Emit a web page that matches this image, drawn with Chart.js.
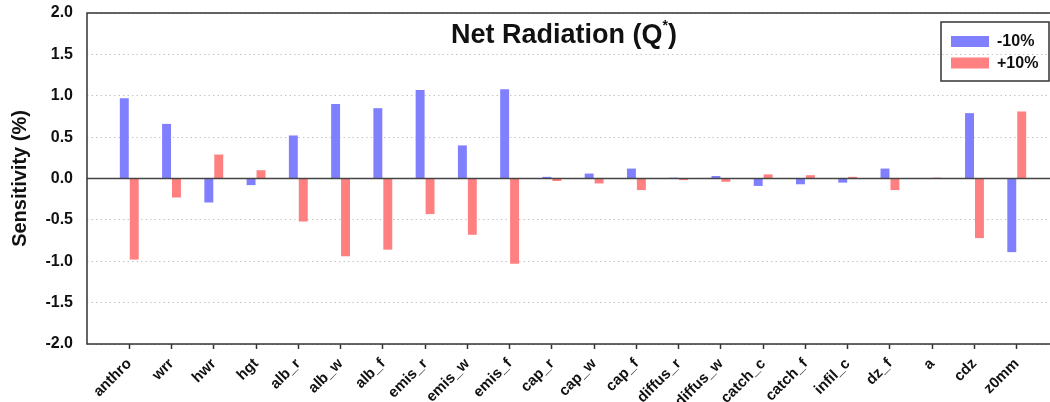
<!doctype html>
<html lang="en">
  <head>
    <meta charset="utf-8">
    <title>Net Radiation sensitivity</title>
    <style>
      * {
        margin: 0;
        padding: 0;
      }
      body {
        background: white;
        overflow: hidden;
        width: 1050px;
        height: 402px;
      }
      .chartBox {
        width: 1062px;
        height: 402px;
      }
    </style>
  </head>
  <body>
    <div class="chartBox">
      <canvas id="myChart"></canvas>
    </div>
    <script src="https://cdn.jsdelivr.net/npm/chart.js/dist/chart.umd.min.js"></script>
    <script>
    // setup
    const categories = ['anthro', 'wrr', 'hwr', 'hgt', 'alb_r', 'alb_w', 'alb_f', 'emis_r', 'emis_w', 'emis_f',
      'cap_r', 'cap_w', 'cap_f', 'diffus_r', 'diffus_w', 'catch_c', 'catch_f', 'infil_c', 'dz_f', 'a', 'cdz', 'z0mm'];
    const minus10 = [0.97, 0.66, -0.29, -0.08, 0.52, 0.90, 0.85, 1.07, 0.40, 1.08,
      0.02, 0.06, 0.12, 0.01, 0.03, -0.09, -0.07, -0.05, 0.12, 0.00, 0.79, -0.89];
    const plus10 = [-0.98, -0.23, 0.29, 0.10, -0.52, -0.94, -0.86, -0.43, -0.68, -1.03,
      -0.03, -0.06, -0.14, -0.02, -0.04, 0.05, 0.04, 0.02, -0.14, 0.01, -0.72, 0.81];
    const seriesNames = ['-10%', '+10%'];
    const yTicks = [-2.0, -1.5, -1.0, -0.5, 0.0, 0.5, 1.0, 1.5, 2.0];

    const FONT = '"Liberation Sans", Arial, sans-serif';
    const INK = '#111';
    const FRAME = '#333';

    // empty slot at each end so the axis runs one category past the first/last bar
    const pad = arr => [null, ...arr, null];
    const labels = ['', ...categories, ''];

    const data = {
      labels,
      datasets: [
        {
          label: seriesNames[0],
          data: pad(minus10),
          backgroundColor: 'rgb(128,128,255)',
          categoryPercentage: 0.47,
          barPercentage: 0.9
        },
        {
          label: seriesNames[1],
          data: pad(plus10),
          backgroundColor: 'rgb(255,128,128)',
          categoryPercentage: 0.47,
          barPercentage: 0.9
        }
      ]
    };

    // frame, zero line, title and boxed legend
    const decorations = {
      id: 'decorations',
      afterDatasetsDraw(chart) {
        const { ctx, chartArea: a, scales } = chart;
        const y0 = scales.y.getPixelForValue(0);
        ctx.save();
        ctx.strokeStyle = '#444';
        ctx.lineWidth = 1.5;
        ctx.beginPath();
        ctx.moveTo(a.left, y0);
        ctx.lineTo(a.right, y0);
        ctx.stroke();

        ctx.strokeStyle = FRAME;
        ctx.lineWidth = 1.5;
        ctx.strokeRect(a.left, a.top, a.right - a.left, a.bottom - a.top);

        // title with superscript star
        ctx.fillStyle = INK;
        ctx.textBaseline = 'alphabetic';
        ctx.textAlign = 'left';
        ctx.font = 'bold 27px ' + FONT;
        const main = 'Net Radiation (Q';
        const tail = ')';
        const w1 = ctx.measureText(main).width;
        const w2 = ctx.measureText(tail).width;
        ctx.font = 'bold 14px ' + FONT;
        const ws = ctx.measureText('*').width;
        let x = 564 - (w1 + ws + w2) / 2;
        ctx.font = 'bold 27px ' + FONT;
        ctx.fillText(main, x, 43);
        ctx.font = 'bold 14px ' + FONT;
        ctx.fillText('*', x + w1, 30);
        ctx.font = 'bold 27px ' + FONT;
        ctx.fillText(tail, x + w1 + ws, 43);

        // legend box
        ctx.strokeStyle = FRAME;
        ctx.lineWidth = 1.5;
        ctx.strokeRect(941, 22, 108, 59);
        ctx.font = 'bold 16px ' + FONT;
        ctx.textBaseline = 'middle';
        chart.data.datasets.forEach((ds, i) => {
          const top = 36 + i * 21.5;
          ctx.fillStyle = ds.backgroundColor;
          ctx.fillRect(951, top, 38, 11);
          ctx.fillStyle = INK;
          ctx.fillText(ds.label, 997, top + 6);
        });
        ctx.restore();
      }
    };

    // config
    const config = {
      type: 'bar',
      data,
      options: {
        responsive: true,
        maintainAspectRatio: false,
        animation: false,
        layout: { padding: { top: 13, right: 3, bottom: 0, left: 0 } },
        plugins: {
          legend: { display: false },
          tooltip: { enabled: false }
        },
        scales: {
          x: {
            offset: false,
            afterFit: scale => {
              scale.height = 58;
              scale.paddingLeft = 0;
              scale.paddingRight = 0;
            },
            grid: {
              offset: false,
              drawOnChartArea: false,
              drawTicks: true,
              tickLength: 5,
              tickColor: c => (labels[c.index] ? FRAME : 'rgba(0,0,0,0)'),
              tickWidth: 1.5
            },
            border: { display: false },
            ticks: {
              autoSkip: false,
              maxRotation: 45,
              minRotation: 45,
              padding: 6,
              color: INK,
              font: { family: FONT, size: 15, weight: 'bold' }
            }
          },
          y: {
            min: -2,
            max: 2,
            afterFit: scale => {
              scale.width = 87;
              scale.paddingTop = 0;
              scale.paddingBottom = 0;
            },
            afterBuildTicks: scale => { scale.ticks = yTicks.map(v => ({ value: v })); },
            grid: {
              color: '#c4c4c4',
              lineWidth: 1,
              drawTicks: false
            },
            border: { display: false, dash: [1.5, 3] },
            ticks: {
              padding: 14,
              color: INK,
              font: { family: FONT, size: 16, weight: 'bold' },
              callback: v => v.toFixed(1)
            },
            title: {
              display: true,
              text: 'Sensitivity (%)',
              color: INK,
              padding: { top: 8, bottom: 0 },
              font: { family: FONT, size: 20, weight: 'bold' }
            }
          }
        }
      },
      plugins: [decorations]
    };

    // render init block
    const myChart = new Chart(
      document.getElementById('myChart'),
      config
    );
    </script>
  </body>
</html>
